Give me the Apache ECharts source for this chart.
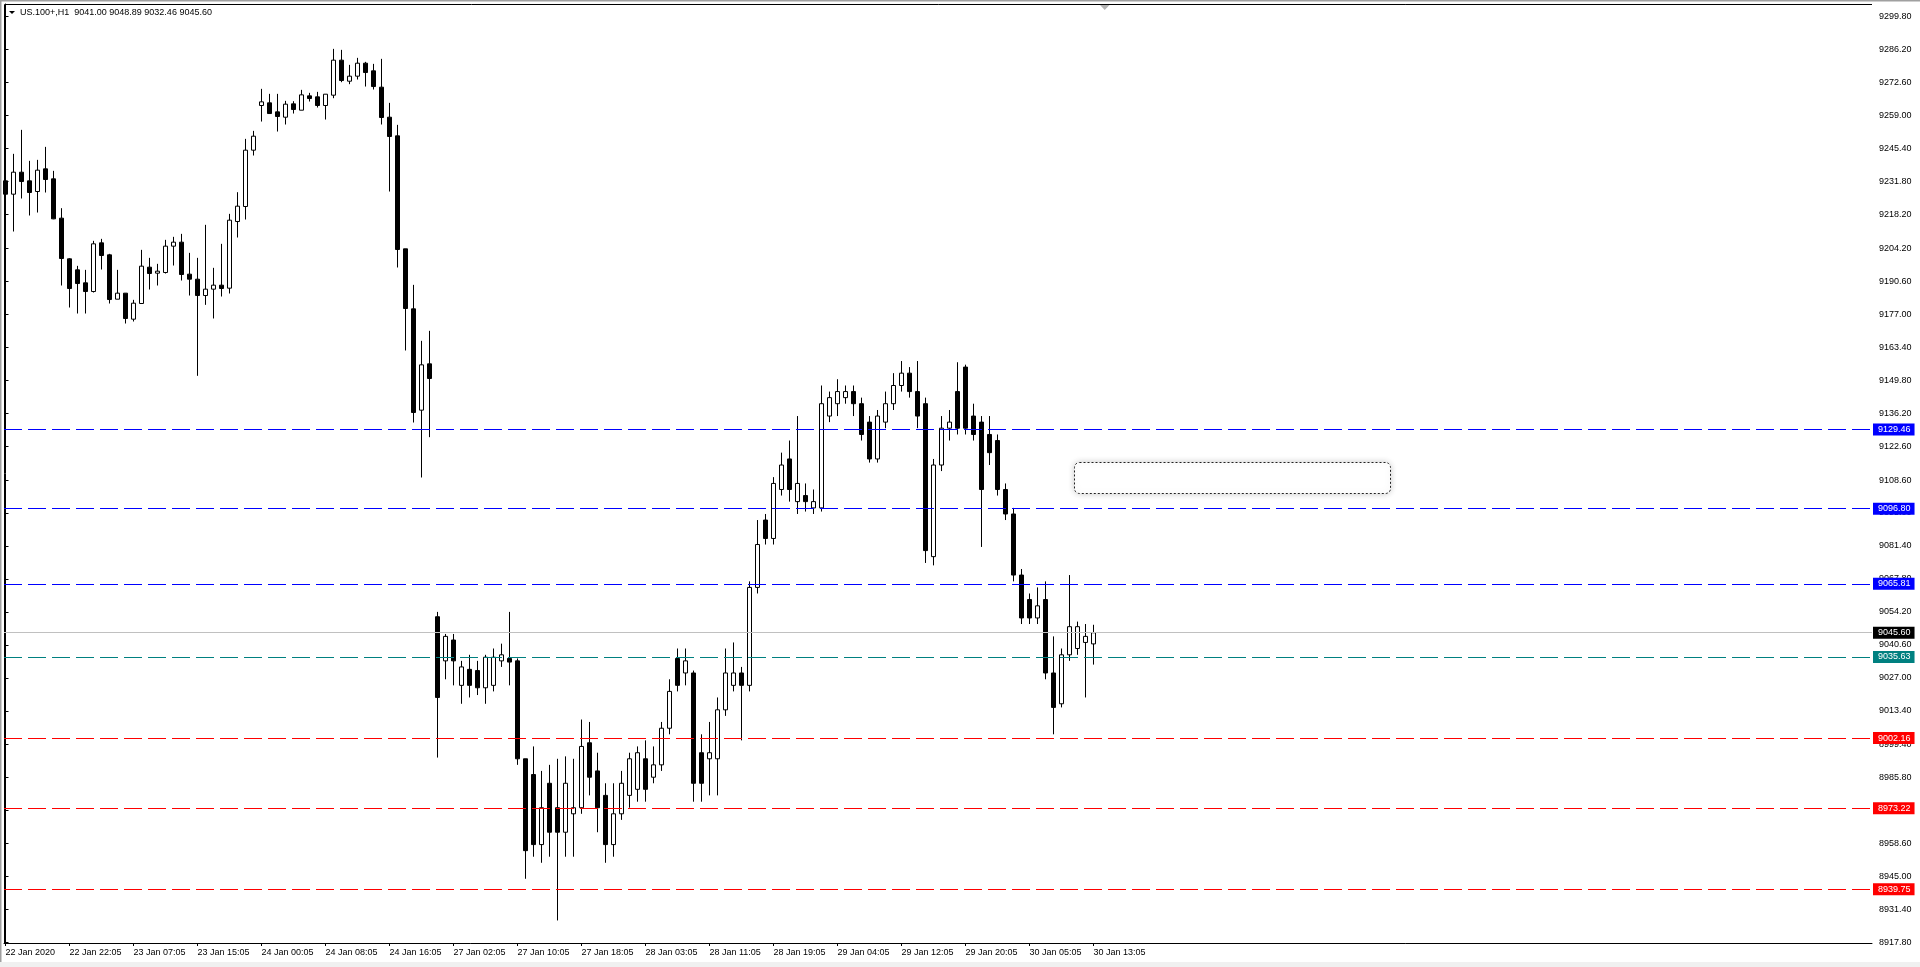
<!DOCTYPE html>
<html><head><meta charset="utf-8">
<script src="https://cdn.jsdelivr.net/npm/echarts@6/dist/echarts.min.js"></script>
<style>html,body{margin:0;padding:0;background:#fff;overflow:hidden}#c{width:1920px;height:967px}</style>
</head><body><div id="c"></div>
<script>
const symbolTitle = 'US.100+,H1  9041.00 9048.89 9032.46 9045.60';

const opens = [9232.04,9226.54,9235.61,9232.04,9227.64,9236.99,9232.86,9216.64,9199.86,9195.32,
9189.96,9186.38,9206.46,9201.51,9183.22,9185.70,9174.97,9181.43,9196.42,9193.95,
9194.22,9205.09,9206.74,9193.54,9191.47,9184.73,9187.35,9189.00,9187.76,9215.26,
9221.45,9244.69,9263.12,9264.22,9260.50,9258.30,9263.80,9261.19,9267.10,9266.69,
9263.12,9267.38,9281.82,9273.15,9275.22,9280.58,9277.42,9270.68,9258.30,9250.60,
9203.99,9179.23,9137.43,9156.54,
9052.2,9034.0,9042.6,9023.9,9030.5,9030.0,9022.9,9023.9,9034.0,9035.0,
9034.0,8993.6,8987.1,8958.2,8983.5,8973.4,8963.3,8970.9,8973.4,9000.2,
8988.6,8978.5,8958.2,8970.9,8978.5,8981.0,8993.6,8986.0,8991.1,9006.2,
9035.0,9029.0,9029.0,8996.1,8993.6,8993.6,9013.8,9023.9,9029.0,9023.9,
9064.3,9092.1,9084.5,9104.7,9117.3,9099.7,9102.2,9097.1,9097.1,9135.0,
9140.1,9142.6,9145.1,9140.1,9132.5,9117.3,9132.5,9140.1,9147.6,9152.7,
9145.1,9140.1,9077.0,9114.8,9130.0,9145.1,9155.2,9135.0,9132.5,9127.4,
9124.9,9104.7,9094.6,9069.4,9059.3,9051.7,9059.3,9029.0,9016.3,9036.5,
9039.1,9041.6,9041.00];
const closes = [9226.54,9235.61,9231.76,9227.23,9236.44,9232.59,9216.36,9200.00,9187.62,9189.68,
9186.38,9206.05,9201.24,9183.08,9185.70,9175.25,9181.57,9196.84,9193.81,9194.77,
9205.09,9206.74,9193.40,9191.47,9184.73,9187.35,9189.00,9187.62,9215.81,9221.59,
9244.69,9250.46,9264.63,9259.81,9258.58,9263.67,9261.47,9267.52,9266.00,9263.12,
9267.79,9281.82,9273.43,9275.22,9280.58,9276.73,9270.95,9258.17,9250.33,9203.71,
9179.37,9136.47,9156.13,9150.49,
9018.9,9044.1,9034.0,9031.5,9023.9,9022.9,9035.5,9035.5,9036.5,9033.5,
8993.6,8955.7,8958.2,8973.4,8963.3,8963.3,8983.5,8973.4,8998.7,8986.0,
8973.4,8958.2,8970.9,8983.5,8993.6,8996.1,8981.0,8991.1,9006.2,9021.4,
9023.9,9034.0,8983.5,8983.5,8996.1,9013.8,9029.0,9029.0,9023.9,9064.3,
9082.0,9084.5,9107.2,9114.8,9104.7,9107.2,9099.7,9099.7,9140.1,9142.6,
9145.1,9145.1,9140.1,9127.4,9117.3,9135.0,9140.1,9147.6,9152.7,9145.1,
9135.0,9079.5,9114.8,9130.0,9132.5,9130.0,9130.0,9127.4,9104.7,9119.9,
9104.7,9094.6,9069.4,9051.7,9051.7,9056.7,9029.0,9014.8,9036.5,9048.1,
9048.1,9044.1,9045.60];
const lows = [9222.82,9211.14,9224.75,9217.74,9218.97,9227.23,9216.22,9188.86,9179.78,9177.31,
9177.31,9185.97,9195.46,9181.43,9183.22,9173.18,9174.01,9181.43,9187.21,9188.86,
9193.81,9197.11,9190.92,9184.73,9151.60,9180.88,9175.25,9184.32,9185.56,9208.66,
9216.09,9242.49,9256.51,9259.81,9252.39,9255.28,9259.81,9261.19,9264.77,9262.29,
9257.34,9266.14,9272.74,9271.92,9273.84,9270.95,9269.72,9255.28,9227.64,9196.29,
9162.05,9132.34,9109.65,9126.29,
8994.1,9026.4,9023.9,9016.3,9018.9,9019.9,9016.3,9021.4,9031.5,9023.9,
8991.1,8944.1,8953.2,8950.7,8953.2,8926.9,8953.2,8953.2,8970.9,8978.5,
8963.3,8950.7,8953.2,8968.4,8973.4,8975.9,8975.9,8983.5,8988.6,9003.7,
9021.4,9023.9,8975.9,8975.9,8978.5,8978.5,9011.3,9021.4,9001.2,9021.4,
9061.8,9082.0,9082.0,9102.2,9099.7,9094.6,9095.6,9094.6,9095.6,9132.5,
9135.0,9140.1,9135.0,9124.9,9115.8,9115.8,9130.0,9137.5,9145.1,9142.6,
9130.0,9074.4,9073.4,9112.3,9124.9,9127.4,9127.4,9124.9,9081.0,9114.8,
9102.2,9092.1,9066.8,9049.2,9049.2,9049.2,9026.4,9003.7,9014.8,9034.0,
9036.5,9018.9,9032.46];
const highs = [9234.93,9243.18,9253.08,9240.29,9240.70,9246.06,9236.16,9220.76,9200.14,9196.97,
9195.32,9207.29,9208.11,9201.92,9195.32,9185.70,9182.95,9203.57,9200.27,9197.80,
9207.70,9208.94,9210.17,9202.33,9200.27,9213.89,9196.15,9206.05,9218.42,9227.36,
9249.36,9252.66,9269.99,9267.93,9267.93,9265.04,9264.90,9269.58,9268.34,9268.75,
9267.79,9286.49,9286.08,9279.89,9282.78,9281.13,9280.30,9282.37,9264.22,9255.14,
9203.99,9189.13,9166.03,9170.16,
9054.2,9045.1,9045.1,9034.0,9036.5,9034.0,9036.5,9039.1,9041.1,9054.2,
9035.0,8993.6,8998.7,8988.6,8991.1,8993.6,8994.6,8993.6,9009.8,9008.8,
8996.1,8983.5,8983.5,8988.6,8996.1,8998.7,9001.2,8998.7,9008.8,9026.4,
9039.1,9039.1,9030.0,9003.7,9008.8,9018.9,9039.1,9041.6,9031.5,9066.8,
9092.1,9094.6,9109.8,9119.9,9124.9,9135.0,9107.2,9104.7,9147.6,9145.1,
9150.2,9147.6,9147.6,9142.6,9135.0,9137.5,9145.1,9152.7,9157.7,9155.2,
9157.7,9142.6,9117.3,9135.0,9137.5,9157.2,9156.2,9140.1,9135.0,9135.0,
9127.4,9107.2,9097.1,9071.9,9061.8,9064.3,9066.8,9044.1,9039.1,9069.4,
9050.2,9049.2,9048.89];

const xTickBars = [0,8,16,24,32,40,48,56,64,72,80,88,96,104,112,120,128,136];
const xTickLabels = ['22 Jan 2020','22 Jan 22:05','23 Jan 07:05','23 Jan 15:05','24 Jan 00:05','24 Jan 08:05',
'24 Jan 16:05','27 Jan 02:05','27 Jan 10:05','27 Jan 18:05','28 Jan 03:05','28 Jan 11:05','28 Jan 19:05',
'29 Jan 04:05','29 Jan 12:05','29 Jan 20:05','30 Jan 05:05','30 Jan 13:05'];
const yTickLabels = ['8917.80','8931.40','8945.00','8958.60','8972.20','8985.80','8999.40','9013.40','9027.00',
'9040.60','9054.20','9067.80','9081.40','9095.00','9108.60','9122.60','9136.20','9149.80','9163.40','9177.00',
'9190.60','9204.20','9218.20','9231.80','9245.40','9259.00','9272.60','9286.20','9299.80'];

const resistanceLevels = [9129.46, 9096.80, 9065.81];
const lastPrice = 9045.60;
const pivotLevel = 9035.63;
const supportLevels = [9002.16, 8973.22, 8939.75];
const noteBox = {fromBar: 133.6, toBar: 173.1, top: 9116.0, bottom: 9103.2};

const FONT = '"Liberation Sans", Arial, sans-serif';
const yTickVals = yTickLabels.map(Number);
const candles = opens.map((o, i) => [i, o, closes[i], lows[i], highs[i]]);

function level(v, color, dashed, bg) {
  return {
    yAxis: v,
    lineStyle: {color: color, width: 1, type: dashed ? [18, 6] : 'solid'},
    label: {
      show: true, position: 'end', distance: 1,
      formatter: v.toFixed(2), color: '#fff', backgroundColor: bg,
      fontFamily: FONT, fontSize: 9, padding: [2, 4, 1, 5], lineHeight: 9
    }
  };
}
const markData = []
  .concat(resistanceLevels.map(v => level(v, '#0000ff', true, '#0000ff')))
  .concat([level(lastPrice, '#c0c0c0', false, '#000000'), level(pivotLevel, '#008080', true, '#008080')])
  .concat(supportLevels.map(v => level(v, '#ff0000', true, '#ff0000')));

const chart = echarts.init(document.getElementById('c'), null, {renderer: 'canvas'});
const option = {
  animation: false,
  backgroundColor: '#ffffff',
  grid: {left: 4, top: 4, width: 1868, height: 939, show: false},
  xAxis: {
    type: 'value', min: -0.1875, max: 233.3125,
    splitLine: {show: false},
    axisLine: {show: true, onZero: false, lineStyle: {color: '#000', width: 1}},
    axisTick: {show: true, length: 3, customValues: xTickBars, lineStyle: {color: '#000'}},
    axisLabel: {
      customValues: xTickBars, align: 'left', margin: 5,
      formatter: v => { const k = xTickBars.indexOf(Math.round(v)); return k >= 0 ? xTickLabels[k] : ''; },
      color: '#000', fontFamily: FONT, fontSize: 9
    }
  },
  yAxis: {
    type: 'value', position: 'right', min: 8917.6, max: 9305.0,
    splitLine: {show: false},
    axisLine: {show: true, lineStyle: {color: '#000', width: 1}},
    axisTick: {show: true, length: 3, customValues: yTickVals, lineStyle: {color: '#000'}},
    axisLabel: {
      customValues: yTickVals, margin: 7, align: 'left',
      formatter: v => { let best = 0; yTickVals.forEach((t, k) => { if (Math.abs(t - v) < Math.abs(yTickVals[best] - v)) best = k; }); return yTickLabels[best]; },
      color: '#000', fontFamily: FONT, fontSize: 9
    }
  },
  series: [{
    type: 'candlestick',
    data: candles,
    barWidth: 4,
    itemStyle: {color: '#ffffff', color0: '#000000', borderColor: '#000000', borderColor0: '#000000', borderWidth: 1},
    markLine: {silent: true, symbol: ['none', 'none'], animation: false, data: markData, z: 5}
  }]
};
chart.setOption(option);

const p1 = chart.convertToPixel({gridIndex: 0}, [noteBox.fromBar, noteBox.top]);
const p2 = chart.convertToPixel({gridIndex: 0}, [noteBox.toBar, noteBox.bottom]);

chart.setOption({
  graphic: [
    {type: 'rect', shape: {x: 0, y: 0, width: 1920, height: 1.5}, style: {fill: '#a0a0a0'}, silent: true},
    {type: 'rect', shape: {x: 0, y: 0, width: 1.5, height: 967}, style: {fill: '#a0a0a0'}, silent: true},
    {type: 'rect', shape: {x: 0, y: 962, width: 1920, height: 5}, style: {fill: '#f0f0f0'}, silent: true},
    {type: 'line', shape: {x1: 4.5, y1: 4.5, x2: 4.5, y2: 943}, style: {stroke: '#000', lineWidth: 1}, silent: true},
    {type: 'line', shape: {x1: 4.5, y1: 4.5, x2: 1872, y2: 4.5}, style: {stroke: '#000', lineWidth: 1}, silent: true},
    {type: 'polygon', shape: {points: [[1100, 5], [1109.5, 5], [1104.75, 10]]}, style: {fill: '#b4b4b4'}, silent: true},
    {type: 'polygon', shape: {points: [[9, 11], [15, 11], [12, 14]]}, style: {fill: '#000'}, silent: true},
    {type: 'text', x: 20, y: 8, style: {text: symbolTitle, font: '9px ' + FONT, fill: '#000'}, silent: true},
    {type: 'rect', shape: {x: Math.round(p1[0]) + 0.5, y: Math.round(p1[1]) + 0.5,
      width: Math.round(p2[0] - p1[0]), height: Math.round(p2[1] - p1[1]), r: 5},
      style: {fill: '#ffffff', stroke: '#222', lineWidth: 1, lineDash: [2, 2],
      shadowBlur: 6, shadowColor: 'rgba(0,0,0,0.22)'}, silent: true}
  ]
});
</script></body></html>
